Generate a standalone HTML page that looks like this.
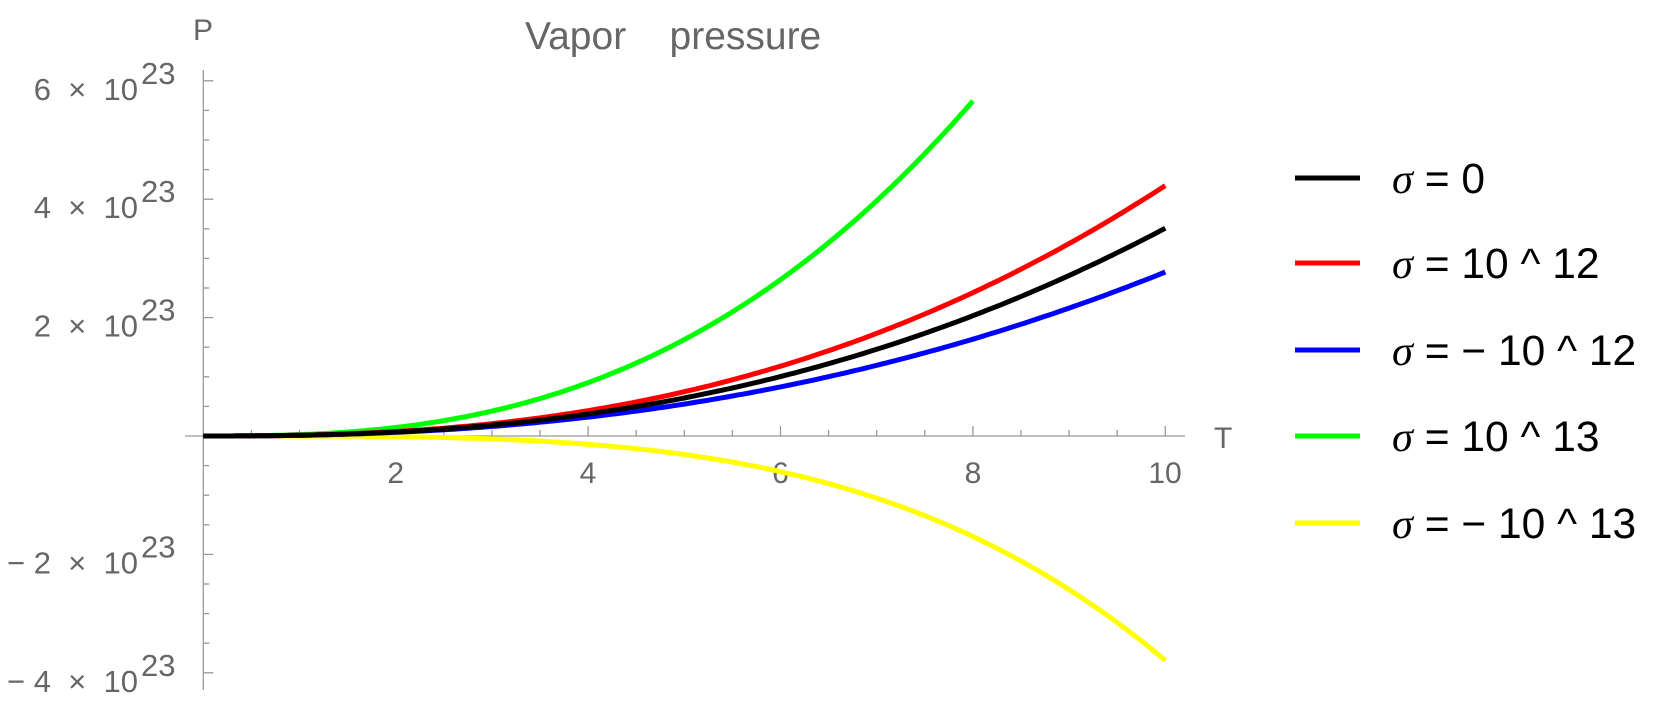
<!DOCTYPE html>
<html><head><style>
html,body{margin:0;padding:0;background:#fff;}
svg{display:block;}
text{white-space:pre;}
.t{font-family:"Liberation Sans",sans-serif;fill:#666;}
.l{font-family:"Liberation Sans",sans-serif;fill:#000;font-size:42.5px;}
</style></head><body>
<svg id="s" width="1661" height="709" xmlns="http://www.w3.org/2000/svg" xml:space="preserve">
<g stroke="#999" stroke-width="1.3" id="ax">
<line x1="203.3" y1="70" x2="203.3" y2="690"/>
<line x1="185" y1="436" x2="1185" y2="436"/>
</g>
<text class="t" x="193" y="40" font-size="30">P</text>
<text class="t" x="525" y="49" font-size="39">Vapor    pressure</text>
<text class="t" x="1214" y="448" font-size="30">T</text>
<g class="t" font-size="30" text-anchor="middle">
<text x="395.7" y="483">2</text><text x="588" y="483">4</text><text x="780.5" y="483">6</text><text x="973" y="483">8</text><text x="1165" y="483">10</text>
</g>
<g id="yl"></g>
<g fill="none" stroke-width="5" stroke-linecap="butt" id="cv"></g>
<g stroke-width="5">
<line x1="1295" y1="178" x2="1360" y2="178" stroke="#000"/>
<line x1="1295" y1="263" x2="1360" y2="263" stroke="#f00"/>
<line x1="1295" y1="350" x2="1360" y2="350" stroke="#00f"/>
<line x1="1295" y1="436" x2="1360" y2="436" stroke="#0f0"/>
<line x1="1295" y1="523" x2="1360" y2="523" stroke="#ff0"/>
</g>
<g class="l">
<text x="1392" y="193"><tspan font-style="italic" font-family="Liberation Serif">σ</tspan> = 0</text>
<text x="1392" y="278"><tspan font-style="italic" font-family="Liberation Serif">σ</tspan> = 10 ^ 12</text>
<text x="1392" y="365"><tspan font-style="italic" font-family="Liberation Serif">σ</tspan> = − 10 ^ 12</text>
<text x="1392" y="451"><tspan font-style="italic" font-family="Liberation Serif">σ</tspan> = 10 ^ 13</text>
<text x="1392" y="538"><tspan font-style="italic" font-family="Liberation Serif">σ</tspan> = − 10 ^ 13</text>
</g>
</svg>
<script>
var NS="http://www.w3.org/2000/svg",X0=203.3,SX=96.2,Y0=436,SY=59.2;
function px(t){return X0+SX*t} function py(v){return Y0-SY*v}
var ax=document.getElementById('ax'),yl=document.getElementById('yl'),cv=document.getElementById('cv');
function ln(g,a,b,c,d){var e=document.createElementNS(NS,'line');e.setAttribute('x1',a);e.setAttribute('y1',b);e.setAttribute('x2',c);e.setAttribute('y2',d);g.appendChild(e);}
for(var v=-4;v<=6.01;v+=0.5){var y=py(v);ln(ax,X0,y,X0+(Math.abs(v%2)<0.01?10:6),y);}
for(var t=0.5;t<=10.01;t+=0.5){var x=px(t);ln(ax,x,Y0,x,Y0-(Math.abs(t%2)<0.01?10:6));}
[6,4,2,-2,-4].forEach(function(v){var y=py(v);
 var a=document.createElementNS(NS,'text');a.setAttribute('class','t');a.setAttribute('font-size','31');a.setAttribute('x',138);a.setAttribute('y',y+19);a.setAttribute('text-anchor','end');a.textContent=(v<0?'− '+(-v):v)+'  ×  10';yl.appendChild(a);
 var b=document.createElementNS(NS,'text');b.setAttribute('class','t');b.setAttribute('font-size','31');b.setAttribute('x',141);b.setAttribute('y',y+3);b.textContent='23';yl.appendChild(b);});
function curve(col,A,T1,n,tmax){var d='';for(var i=0;i<=200;i++){var t=tmax*i/200;var v=A*Math.pow(t/T1,n);d+=(i?'L':'M')+px(t).toFixed(1)+' '+py(v).toFixed(1);}
 var p=document.createElementNS(NS,'path');p.setAttribute('d',d);p.setAttribute('stroke',col);cv.appendChild(p);}
curve('#ff0',-3.79,10,3.6,10);
curve('#0f0',5.66,8,2.65,8);
curve('#00f',2.77,10,2.36,10);
curve('#f00',4.23,10,2.5,10);
curve('#000',3.51,10,2.45,10);
</script>
</body></html>
